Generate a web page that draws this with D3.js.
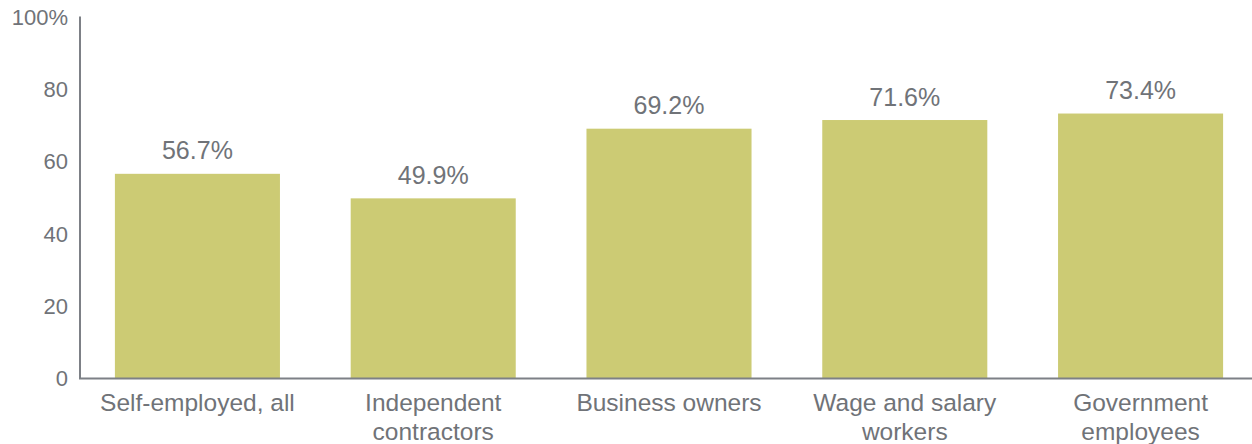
<!DOCTYPE html>
<html>
<head>
<meta charset="utf-8">
<script src="https://cdn.jsdelivr.net/npm/d3@7"></script>
<style>
  html, body { margin: 0; padding: 0; background: #fff; }
  svg { display: block; font-family: "Liberation Sans", Arial, sans-serif; }
</style>
</head>
<body>
<svg id="chart" width="1252" height="444"></svg>
<script>
// Share of workers, by type of employment
const categories = [
  ["Self-employed, all"],
  ["Independent", "contractors"],
  ["Business owners"],
  ["Wage and salary", "workers"],
  ["Government", "employees"]
];
const values = [56.7, 49.9, 69.2, 71.6, 73.4];
const yTicks = [0, 20, 40, 60, 80, 100];

const textColor = "#707378";
const axisColor = "#7d8086";
const barColor = "#cccb74";

const svg = d3.select("#chart");
const W = 1252, H = 444;
const margin = { left: 80, top: 17.5, bottom: 65.5 };

const x = d3.scaleBand()
  .domain(d3.range(values.length))
  .range([margin.left, 1258])
  .paddingInner(0.3)
  .paddingOuter(0.148);

const y = d3.scaleLinear()
  .domain([0, 100])
  .range([H - margin.bottom, margin.top]);

// bars
svg.append("g").selectAll("rect")
  .data(values)
  .join("rect")
  .attr("x", (d, i) => x(i))
  .attr("width", x.bandwidth())
  .attr("y", d => y(d))
  .attr("height", d => y(0) - y(d))
  .attr("fill", barColor);

// value labels
svg.append("g").selectAll("text")
  .data(values)
  .join("text")
  .attr("x", (d, i) => x(i) + x.bandwidth() / 2)
  .attr("y", d => y(d) - 14.5)
  .attr("text-anchor", "middle")
  .attr("font-size", 25)
  .attr("fill", textColor)
  .text(d => d.toFixed(1) + "%");

// y axis
const yAxis = svg.append("g")
  .attr("transform", `translate(${margin.left},0)`)
  .call(d3.axisLeft(y).tickValues(yTicks).tickSize(0).tickPadding(12)
    .tickFormat(d => d === 100 ? "100%" : d));
yAxis.select(".domain").attr("stroke", axisColor).attr("stroke-width", 2)
  .attr("d", `M0,${y(100) - 1}V${y(0)}`);
yAxis.selectAll("text")
  .attr("font-size", 22)
  .attr("fill", textColor)
  .attr("font-family", "Liberation Sans, Arial, sans-serif");

// x axis baseline
svg.append("line")
  .attr("x1", margin.left - 1)
  .attr("x2", W)
  .attr("y1", y(0))
  .attr("y2", y(0))
  .attr("stroke", axisColor)
  .attr("stroke-width", 2);

// category labels
const cat = svg.append("g").selectAll("text")
  .data(categories)
  .join("text")
  .attr("x", (d, i) => x(i) + x.bandwidth() / 2)
  .attr("y", y(0) + 32.5)
  .attr("text-anchor", "middle")
  .attr("font-size", 24.5)
  .attr("fill", textColor);
cat.selectAll("tspan")
  .data(d => d)
  .join("tspan")
  .attr("x", function () { return d3.select(this.parentNode).attr("x"); })
  .attr("dy", (d, i) => i === 0 ? 0 : 29)
  .text(d => d);
</script>
</body>
</html>
